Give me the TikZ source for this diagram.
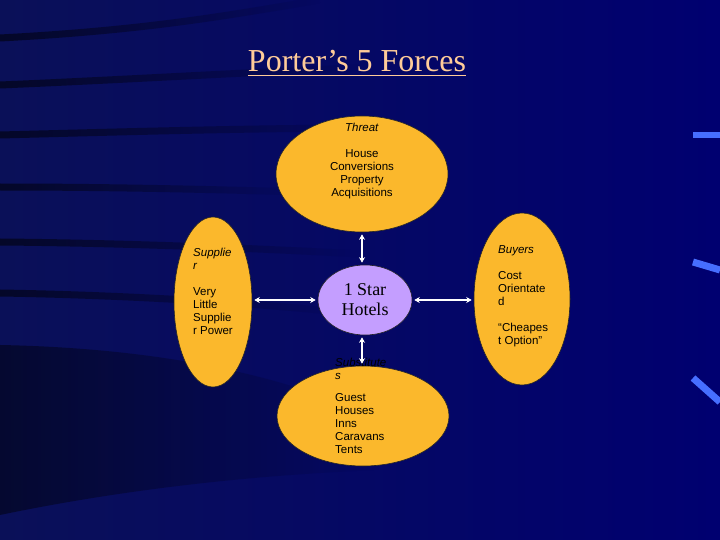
\documentclass[tikz,border=0pt]{standalone}
\usepackage{fontspec}
\setmainfont{Liberation Serif}
\setsansfont{Liberation Sans}
\usetikzlibrary{arrows.meta,shapes.geometric,fadings}
\definecolor{navy}{RGB}{0,0,112}
\definecolor{navyleft}{RGB}{10,16,88}
\definecolor{gold}{RGB}{251,184,44}
\definecolor{lilac}{RGB}{196,158,255}
\definecolor{peach}{RGB}{255,204,153}
\definecolor{streak}{RGB}{70,110,255}

\begin{document}
\begin{tikzpicture}[x=1pt, y=-1pt, >={Stealth[length=5.5pt,width=6pt]}]
\tikzstyle{force}=[ellipse,draw=black!85,line width=0.6pt,fill=gold,inner sep=0pt]
\tikzstyle{lbl}=[inner sep=0pt,font=\sffamily\fontsize{11.5}{13}\selectfont,text=black]
\tikzstyle{link}=[<->,white,line width=1.5pt,shorten <=2pt,shorten >=2pt]
\tikzstyle{band}=[black,line width=7pt,opacity=0.55,path fading=east]
% background
\useasboundingbox (0,0) rectangle (720,540);
\shade[left color=navyleft,right color=navy] (0,0) rectangle (720,540);
\draw[band] (0,38) .. controls (150,30) and (230,15) .. (320,0);
\draw[band] (0,85) .. controls (120,80) and (250,72) .. (360,68);
\draw[band] (0,135) .. controls (120,132) and (250,128) .. (380,128);
\draw[band] (0,187) .. controls (100,187) and (200,189) .. (300,192);
\draw[band] (0,242) .. controls (120,243) and (250,248) .. (360,254);
\draw[band] (0,293) .. controls (120,295) and (240,302) .. (340,312);
\fill[black,opacity=0.45,path fading=east] (0,345) .. controls (150,348) and (280,372) .. (380,420)
  -- (380,470) .. controls (250,475) and (120,490) .. (0,515) -- cycle;
\draw[streak,line width=6pt] (693,135) -- (720,135);
\draw[streak,line width=7pt] (693,262) -- (720,270);
\draw[streak,line width=7pt] (693,378) -- (720,402);
% title
\node[inner sep=0pt,font=\fontsize{32}{36}\selectfont,text=peach,anchor=base] (title) at (357,72) {Porter’s 5 Forces};
\draw[peach,line width=1.6pt] ([yshift=-3.5pt]title.base west) -- ([yshift=-3.5pt]title.base east);
% forces
\node[force,minimum width=172pt,minimum height=116pt] (threat) at (362,174) {};
\node[force,minimum width=78pt,minimum height=170pt] (supp) at (213,302) {};
\node[force,minimum width=96pt,minimum height=172pt] (buy) at (522,299) {};
\node[force,minimum width=172pt,minimum height=100pt] (subs) at (363,416) {};
\node[force,fill=lilac,minimum width=94pt,minimum height=70pt,align=center,
  font=\fontsize{18}{20}\selectfont] (hotel) at (365,300) {1 Star\\Hotels};
\node[lbl,align=center,anchor=north] (threattxt) at (362,122.5)
  {\textit{Threat}\\[13pt]House\\Conversions\\Property\\Acquisitions};
\node[lbl,align=left,anchor=north west] (supptxt) at (193,248)
  {\textit{Supplie}\\\textit{r}\\[13pt]Very\\Little\\Supplie\\r Power};
\node[lbl,align=left,anchor=north west] (buytxt) at (498,245)
  {\textit{Buyers}\\[13pt]Cost\\Orientate\\d\\[13pt]“Cheapes\\t Option”};
\node[lbl,align=left,anchor=north west] (substxt) at (335,358)
  {\textit{Substitute}\\\textit{s}\\[9pt]Guest\\Houses\\Inns\\Caravans\\Tents};
% links
\draw[link] (threat.south) -- (threat.south |- hotel.north);
\draw[link] (supp.east |- hotel.west) -- (hotel.west);
\draw[link] (hotel.east) -- (buy.west |- hotel.east);
\draw[link] (threat.south |- hotel.south) -- (threat.south |- subs.north);
\end{tikzpicture}
\end{document}
